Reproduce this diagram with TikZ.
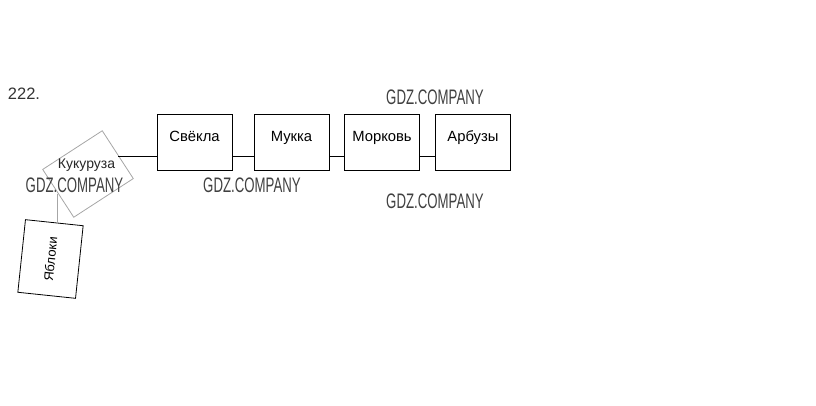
\documentclass[tikz,border=0pt]{standalone}
\usepackage{fontspec}
\setmainfont{Liberation Sans}
\begin{document}
\begin{tikzpicture}[x=1pt, y=-1pt,
  box/.style={draw, line width=0.8pt, minimum width=75pt, minimum height=56pt,
    font=\fontsize{14.8}{17}\selectfont, text height=10pt, text depth=10pt},
  wmark/.style={text=black!75, font=\fontsize{21}{24}\selectfont, xscale=0.63},
  link/.style={line width=0.8pt}]
\useasboundingbox (0,0) rectangle (816,406);

\node[font=\fontsize{16.5}{19}\selectfont, text=black!80] (num) at (24,94) {222.};

\node[box] (svekla) at (194.5,142) {Свёкла};
\node[box] (mukka) at (291.5,142) {Мукка};
\node[box] (morkov) at (382,142) {Морковь};
\node[box] (arbuzy) at (473,142) {Арбузы};

\node[draw=gray!70, line width=0.8pt, rotate=33, minimum width=71pt, minimum height=57pt] (kukbox) at (88,174) {};
\node[font=\fontsize{14}{16}\selectfont, text=black!85] (kukuruza) at (86.5,165) {Кукуруза};
\node[draw, line width=0.8pt, rotate=84, minimum width=73pt, minimum height=58pt,
  font=\fontsize{13}{16}\selectfont] (yabloki) at (50.5,259) {Яблоки};

\draw[link] ([yshift=-14pt]svekla.west) -- ([yshift=-14pt]svekla.west -| kukbox.east);
\draw[link] ([yshift=-14pt]svekla.east) -- ([yshift=-14pt]mukka.west);
\draw[link] ([yshift=-14pt]mukka.east) -- ([yshift=-14pt]morkov.west);
\draw[link] ([yshift=-14pt]morkov.east) -- ([yshift=-14pt]arbuzy.west);
\draw[link, gray!70] (kukbox.west) -- (kukbox.west |- yabloki.east);

\node[wmark] (wm1) at (435,97) {GDZ.COMPANY};
\node[wmark] (wm2) at (252,185) {GDZ.COMPANY};
\node[wmark] (wm3) at (435,201) {GDZ.COMPANY};
\node[wmark] (wm4) at (74.5,185) {GDZ.COMPANY};
\end{tikzpicture}
\end{document}
